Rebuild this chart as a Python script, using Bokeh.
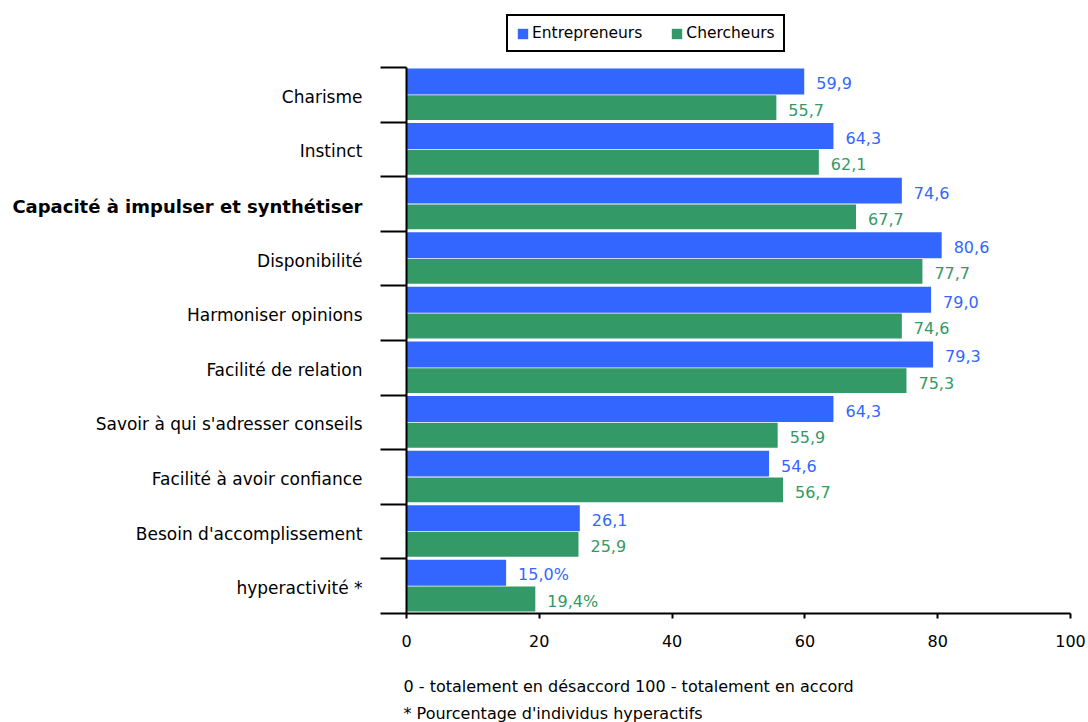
from bokeh.plotting import figure
from bokeh.layouts import row, column
from bokeh.models import (ColumnDataSource, FixedTicker, Legend, LegendItem, Range1d, Label)
from bokeh.core.properties import value
from bokeh.embed import file_html
from bokeh.resources import INLINE

categories = ["Charisme", "Instinct", "Capacité à impulser et synthétiser", "Disponibilité",
              "Harmoniser opinions", "Facilité de relation", "Savoir à qui s'adresser conseils",
              "Facilité à avoir confiance", "Besoin d'accomplissement", "hyperactivité *"]
bold_category = "Capacité à impulser et synthétiser"
entrepreneurs = [59.9, 64.3, 74.6, 80.6, 79.0, 79.3, 64.3, 54.6, 26.1, 15.0]
chercheurs = [55.7, 62.1, 67.7, 77.7, 74.6, 75.3, 55.9, 56.7, 25.9, 19.4]
entrepreneurs_labels = ["59,9", "64,3", "74,6", "80,6", "79,0", "79,3", "64,3", "54,6", "26,1", "15,0%"]
chercheurs_labels = ["55,7", "62,1", "67,7", "77,7", "74,6", "75,3", "55,9", "56,7", "25,9", "19,4%"]
x_ticks = [0, 20, 40, 60, 80, 100]
note_lines = ["0 - totalement en désaccord  100 - totalement en accord",
              "* Pourcentage d'individus hyperactifs"]

BLUE = "#3366FF"
GREEN = "#339966"
FONT = "DejaVu Sans"

n = len(categories)
pos = [n - 1 - i for i in range(n)]  # top to bottom

W = 1086
H_MAIN = 658
H_NOTES = 64
TOP, BOTTOM = 10, 45
LEFT_W = 374
BAND_PX = 54.6                      # pixel height of one category band
HEAD_PX = 57                        # room above the first category for the legend
frame_h = H_MAIN - TOP - BOTTOM
y_range = Range1d(-0.5, -0.5 + frame_h / BAND_PX)

# ---------- left figure: category labels ----------
lab_src = ColumnDataSource(dict(
    x=[1.0] * n, y=pos,
    t=categories,
    style=["bold" if c == bold_category else "normal" for c in categories],
    size=["18px" if c == bold_category else "17px" for c in categories],
))
pl = figure(width=LEFT_W, height=H_MAIN, output_backend="svg", toolbar_location=None,
            x_range=Range1d(0, 1), y_range=y_range,
            x_axis_location=None, y_axis_location=None,
            min_border_left=0, min_border_right=0, min_border_top=TOP, min_border_bottom=BOTTOM)
pl.outline_line_color = None
pl.grid.visible = False
pl.text(x="x", y="y", text="t", source=lab_src, x_offset=-12, y_offset=2, text_align="right",
        text_baseline="middle", text_font=value(FONT), text_font_size="size",
        text_font_style="style", text_color="black")

# ---------- right figure: bars ----------
src_e = ColumnDataSource(dict(y=[p_ + 0.245 for p_ in pos], v=entrepreneurs, t=entrepreneurs_labels))
src_c = ColumnDataSource(dict(y=[p_ - 0.235 for p_ in pos], v=chercheurs, t=chercheurs_labels))

p = figure(width=W - LEFT_W, height=H_MAIN, output_backend="svg", toolbar_location=None,
           x_range=Range1d(0, 100), y_range=y_range,
           min_border_left=32, min_border_right=16, min_border_top=TOP, min_border_bottom=BOTTOM)
p.outline_line_color = None
p.grid.visible = False

r_e = p.hbar(y="y", right="v", left=0, height=0.475, source=src_e, fill_color=BLUE, line_color=None)
r_c = p.hbar(y="y", right="v", left=0, height=0.455, source=src_c, fill_color=GREEN, line_color=None)

p.text(x="v", y="y", text="t", source=src_e, x_offset=12, y_offset=2, text_baseline="middle",
       text_color=BLUE, text_font_size="16px", text_font=value(FONT))
p.text(x="v", y="y", text="t", source=src_c, x_offset=12, y_offset=2, text_baseline="middle",
       text_color=GREEN, text_font_size="16px", text_font=value(FONT))

xa = p.xaxis[0]
xa.ticker = FixedTicker(ticks=x_ticks)
xa.axis_line_width = 2
xa.axis_line_color = "black"
xa.major_tick_line_width = 2
xa.major_tick_out = 5
xa.major_tick_in = 0
xa.minor_tick_line_color = None
xa.major_label_text_font = FONT
xa.major_label_text_font_size = "16px"
xa.major_label_text_color = "black"
xa.major_label_standoff = 16

ya = p.yaxis[0]
ya.ticker = FixedTicker(ticks=[i - 0.5 for i in range(n + 1)])
ya.bounds = (-0.5, n - 0.5)
ya.axis_line_width = 2
ya.axis_line_color = "black"
ya.major_tick_line_width = 2
ya.major_tick_out = 26
ya.major_tick_in = 0
ya.minor_tick_line_color = None
ya.major_label_overrides = {i - 0.5: "" for i in range(n + 1)}
ya.major_label_standoff = 0

# legend sits in the frame's head room, 17px above the first category
legend = Legend(items=[LegendItem(label="Entrepreneurs", renderers=[r_e]),
                       LegendItem(label="Chercheurs", renderers=[r_c])],
                orientation="horizontal", location=(100, frame_h - HEAD_PX + 15), margin=0,
                border_line_color="black", border_line_width=2, border_line_alpha=1.0,
                label_text_font=FONT, label_text_font_size="15.5px", label_text_color="black",
                glyph_width=13, glyph_height=13, label_standoff=3, spacing=28,
                padding=7, label_height=13)
legend.padding = 8
p.add_layout(legend, "center")

# ---------- notes strip below ----------
pn = figure(width=W, height=H_NOTES, output_backend="svg", toolbar_location=None,
            x_range=Range1d(0, W), y_range=Range1d(0, H_NOTES),
            x_axis_location=None, y_axis_location=None,
            min_border_left=0, min_border_right=0, min_border_top=0, min_border_bottom=0)
pn.outline_line_color = None
pn.grid.visible = False
pn.add_layout(Label(x=403, y=36, text=note_lines[0], text_align="left", text_baseline="middle",
                    text_font=FONT, text_font_size="16px", text_color="black"))
pn.add_layout(Label(x=403, y=9, text=note_lines[1], text_align="left", text_baseline="middle",
                    text_font=FONT, text_font_size="16px", text_color="black"))

layout = column(row(pl, p), pn)
open("out.html", "w").write(file_html(layout, INLINE))
